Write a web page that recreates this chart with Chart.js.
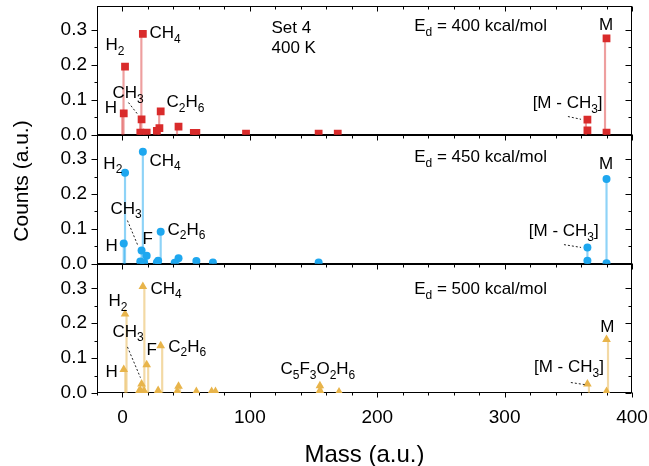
<!DOCTYPE html>
<html>
<head>
<meta charset="utf-8">
<script src="https://cdn.jsdelivr.net/npm/chart.js@4.4.0/dist/chart.umd.min.js"></script>
<style>
  html, body { margin: 0; padding: 0; background: #fff; }
</style>
</head>
<body>
<canvas id="spectra" width="649" height="466"></canvas>
<script>
// x / y tick labels
const massTicks = [0, 100, 200, 300, 400];
const countTicks = [0.0, 0.1, 0.2, 0.3];

// Ed = 400 kcal/mol
const mass400 = [1, 2, 14, 15, 16, 19, 27, 29, 30, 44, 56, 58, 97, 154, 169, 365, 365, 380, 380];
const counts400 = [0.061, 0.195, 0.006, 0.044, 0.289, 0.006, 0.011, 0.019, 0.067, 0.023, 0.005, 0.005, 0.003, 0.003, 0.003, 0.043, 0.012, 0.276, 0.006];

// Ed = 450 kcal/mol
const mass450 = [1, 2, 14, 15, 16, 17, 19, 27, 28, 30, 41, 44, 58, 71, 154, 365, 365, 380, 380];
const counts450 = [0.058, 0.261, 0.007, 0.038, 0.321, 0.004, 0.023, 0.004, 0.009, 0.092, 0.003, 0.016, 0.008, 0.004, 0.004, 0.047, 0.009, 0.243, 0.002];

// Ed = 500 kcal/mol
const mass500 = [1, 2, 13, 14, 15, 16, 17, 19, 28, 30, 43, 44, 58, 70, 73, 155, 155, 170, 365, 380, 380];
const counts500 = [0.067, 0.226, 0.005, 0.008, 0.026, 0.305, 0.006, 0.081, 0.007, 0.135, 0.005, 0.019, 0.004, 0.004, 0.004, 0.021, 0.007, 0.003, 0.026, 0.153, 0.004];

// peak labels: [text, mass, count]  ("_" = next char as subscript)
const labels400 = [
  ['H_2', -13.4, 0.255], ['CH_4', 21.2, 0.289], ['CH_3', -7.9, 0.118], ['H', -14, 0.075],
  ['C_2H_6', 34.6, 0.092], ['[M - CH_3]', 322, 0.089], ['M', 374, 0.312],
  ['Set 4', 117, 0.306], ['400 K', 117, 0.246], ['E_d = 400 kcal/mol', 229, 0.309]
];
const labels450 = [
  ['H_2', -15, 0.286], ['CH_4', 21.2, 0.295], ['CH_3', -9.4, 0.157], ['H', -13.4, 0.049],
  ['F', 15.7, 0.071], ['C_2H_6', 35.4, 0.096], ['[M - CH_3]', 319, 0.092], ['M', 374, 0.286],
  ['E_d = 450 kcal/mol', 229, 0.304]
];
const labels500 = [
  ['H_2', -11, 0.262], ['CH_4', 22, 0.297], ['CH_3', -7.9, 0.174], ['H', -13.4, 0.059],
  ['F', 18.9, 0.121], ['C_2H_6', 36, 0.132], ['C_5F_3O_2H_6', 124, 0.067],
  ['[M - CH_3]', 323, 0.073], ['M', 375, 0.187], ['E_d = 500 kcal/mol', 229, 0.296]
];
// dashed leader lines: [mass1, count1, mass2, count2]
const leaders400 = [[4.7, 0.092, 11.8, 0.059], [349.7, 0.052, 360, 0.044]];
const leaders450 = [[3.9, 0.124, 11.8, 0.055], [346.6, 0.055, 360, 0.047]];
const leaders500 = [[3.9, 0.132, 14.1, 0.044], [352, 0.030, 363, 0.024]];

const FONT = 'Arial, "Liberation Sans", sans-serif';
const RED = '#d92b2b', BLUE = '#1ea7ef', GOLD = '#e8b44a';

const panels = [
  { axis: 'y400', labels: labels400, leaders: leaders400 },
  { axis: 'y450', labels: labels450, leaders: leaders450 },
  { axis: 'y500', labels: labels500, leaders: leaders500 }
];

function pts(xs, ys) {
  return xs.map((x, i) => ({ x: x, y: ys[i] }));
}
function stems(xs, ys, color, axis) {
  return { type: 'bar', data: pts(xs, ys), backgroundColor: color, barThickness: 1.5, yAxisID: axis, order: 2 };
}
function marks(xs, ys, color, style, r, axis) {
  return {
    type: 'scatter', data: pts(xs, ys), pointStyle: style, pointRadius: r,
    backgroundColor: color, borderColor: color, borderWidth: 0, yAxisID: axis, order: 1
  };
}

function isStep(v, step) {
  const k = v / step;
  return Math.abs(k - Math.round(k)) < 1e-6;
}

// draws text with "_x" subscripts
function drawRich(ctx, str, x, y, size) {
  let cx = x;
  for (let i = 0; i < str.length; i++) {
    let ch = str[i], sub = false;
    if (ch === '_') { sub = true; ch = str[++i]; }
    ctx.font = (sub ? Math.round(size * 0.68) : size) + 'px ' + FONT;
    ctx.fillText(ch, cx, sub ? y + size * 0.34 : y);
    cx += ctx.measureText(ch).width;
  }
}

function line(ctx, x1, y1, x2, y2) {
  ctx.beginPath(); ctx.moveTo(x1, y1); ctx.lineTo(x2, y2); ctx.stroke();
}

const framePlugin = {
  id: 'frame',
  beforeDatasetsDraw(chart) {
    const ctx = chart.ctx, xs = chart.scales.x;
    ctx.save();
    ctx.strokeStyle = '#000';
    ctx.lineWidth = 1;
    panels.forEach(p => {
      const ys = chart.scales[p.axis];
      const l = Math.round(xs.left) + 0.5, r = Math.round(xs.right) - 0.5;
      const t = Math.round(ys.top) + 0.5, b = Math.round(ys.bottom) - 0.5;
      ctx.strokeRect(l, t, r - l, b - t);
      xs.ticks.forEach(tk => {
        if (!isStep(tk.value, 20)) return;
        const px = Math.round(xs.getPixelForValue(tk.value)) + 0.5;
        const len = isStep(tk.value, 100) ? 5 : 3;
        line(ctx, px, t, px, t + len);
        line(ctx, px, b, px, b + len);
      });
      ys.ticks.forEach(tk => {
        if (!isStep(tk.value, 0.05)) return;
        const py = Math.round(ys.getPixelForValue(tk.value)) + 0.5;
        const len = isStep(tk.value, 0.1) ? 6 : 3;
        line(ctx, l - len, py, l, py);
        line(ctx, r - len, py, r, py);
      });
    });
    ctx.restore();
  },
  afterDraw(chart) {
    const ctx = chart.ctx, xs = chart.scales.x;
    ctx.save();
    ctx.fillStyle = '#000';
    ctx.textBaseline = 'middle';
    ctx.textAlign = 'left';
    panels.forEach(p => {
      const ys = chart.scales[p.axis];
      p.labels.forEach(lb => {
        drawRich(ctx, lb[0], xs.getPixelForValue(lb[1]), ys.getPixelForValue(lb[2]), 17);
      });
      ctx.strokeStyle = '#222';
      ctx.lineWidth = 1;
      ctx.setLineDash([2, 2]);
      p.leaders.forEach(ld => {
        line(ctx, xs.getPixelForValue(ld[0]), ys.getPixelForValue(ld[1]),
          xs.getPixelForValue(ld[2]), ys.getPixelForValue(ld[3]));
      });
      ctx.setLineDash([]);
    });
    // y axis title
    ctx.translate(22, 181);
    ctx.rotate(-Math.PI / 2);
    ctx.textAlign = 'center';
    ctx.font = '21px ' + FONT;
    ctx.fillText('Counts (a.u.)', 0, 0);
    ctx.restore();
  }
};

function yScale(weight) {
  return {
    type: 'linear', position: 'left', stack: 'panels', stackWeight: 1, weight: weight,
    min: 0, max: 0.37,
    grid: { display: false, drawTicks: false },
    border: { display: false },
    ticks: {
      stepSize: 0.05, autoSkip: false, padding: 10, color: '#000',
      font: { family: FONT, size: 19 },
      callback: v => (countTicks.some(c => Math.abs(c - v) < 1e-6) ? v.toFixed(1) : '')
    },
    afterFit: s => { s.width = 97; s.paddingTop = 0; s.paddingBottom = 0; }
  };
}

new Chart(document.getElementById('spectra'), {
  type: 'scatter',
  data: {
    datasets: [
      stems(mass400, counts400, 'rgba(217,43,43,0.45)', 'y400'),
      marks(mass400, counts400, RED, 'rect', 5.5, 'y400'),
      stems(mass450, counts450, 'rgba(30,167,239,0.5)', 'y450'),
      marks(mass450, counts450, BLUE, 'circle', 4, 'y450'),
      stems(mass500, counts500, 'rgba(232,180,74,0.5)', 'y500'),
      marks(mass500, counts500, GOLD, 'triangle', 5, 'y500')
    ]
  },
  options: {
    responsive: false,
    animation: false,
    devicePixelRatio: 1,
    layout: { padding: { top: 0, right: 17, left: 0, bottom: 0 } },
    plugins: { legend: { display: false }, tooltip: { enabled: false } },
    scales: {
      x: {
        type: 'linear', position: 'bottom', min: -20, max: 400, offset: false,
        grid: { display: false, drawTicks: false, offset: false },
        border: { display: false },
        ticks: {
          stepSize: 20, autoSkip: false, maxRotation: 0, padding: 13, color: '#000',
          font: { family: FONT, size: 19 },
          callback: v => (massTicks.includes(v) ? String(v) : '')
        },
        title: {
          display: true, text: 'Mass (a.u.)', color: '#000',
          font: { family: FONT, size: 24 }, padding: { top: 0, bottom: -4 }
        },
        afterFit: s => { s.height = 73; s.paddingLeft = 0; s.paddingRight = 0; }
      },
      y400: yScale(3),
      y450: yScale(2),
      y500: yScale(1)
    }
  },
  plugins: [framePlugin]
});
</script>
</body>
</html>
